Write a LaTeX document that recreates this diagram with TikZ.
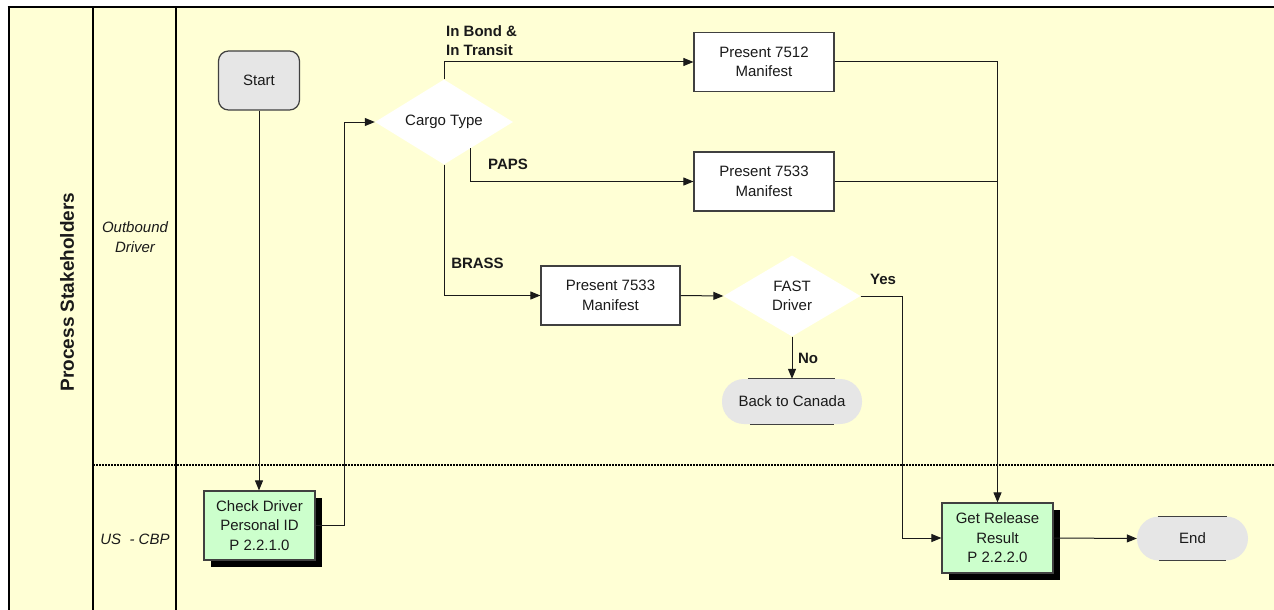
\documentclass[tikz,border=0pt]{standalone}
\usepackage{fontspec}
\setmainfont{Liberation Sans}
\usetikzlibrary{shapes.geometric,arrows.meta,shadows,calc}
\definecolor{bg}{HTML}{FFFFD5}
\definecolor{procfill}{HTML}{CCFFCC}
\definecolor{termfill}{HTML}{E6E6E6}
\definecolor{edge}{HTML}{404040}
\definecolor{ink}{HTML}{1A1A1A}
\tikzset{
  lane/.style={line width=2.6pt,black},
  lanesep/.style={line width=2pt,black,dash pattern=on 2pt off 1pt},
  startbox/.style={draw=edge,line width=1.2pt,fill=termfill,rounded corners=10pt,minimum width=81pt,minimum height=59pt,inner sep=0pt},
  procbox/.style={draw=edge,line width=1.2pt,fill=procfill,minimum width=111pt,minimum height=69pt,inner sep=0pt,align=center,
    drop shadow={shadow xshift=7pt,shadow yshift=-7pt,fill=black,opacity=1}},
  mbox/.style={draw=edge,line width=1.2pt,fill=white,minimum width=140pt,minimum height=59pt,inner sep=0pt,align=center},
  decision/.style={diamond,aspect=1.6,fill=white,draw=none,inner sep=0pt,align=center},
  term/.style={fill=termfill,draw=none,rounded corners=22pt,minimum height=44pt,inner sep=0pt},
  termline/.style={line width=1.2pt,edge},
  conn/.style={line width=1pt,draw=ink,-{Triangle[length=10pt,width=8pt]}},
  plain/.style={line width=1pt,draw=ink},
  lbl/.style={font=\fontsize{15}{19}\selectfont\bfseries,inner sep=0pt,text=ink},
  lanelbl/.style={font=\fontsize{15}{19.5}\selectfont\itshape,inner sep=0pt,align=center,text=ink},
}
\begin{document}
\begin{tikzpicture}[x=1pt,y=-1pt,font=\fontsize{15}{19.5}\selectfont,text=ink]
\useasboundingbox (0,0) rectangle (1274,610);
\fill[white] (0,0) rectangle (1274,610);
\fill[bg] (9,7) rectangle (1274,610);
\draw[lane] (7.7,7) -- (1274,7);
\draw[lane] (9,7) -- (9,610);
\draw[lane] (93,7) -- (93,610);
\draw[lane] (176,7) -- (176,610);
\draw[lanesep] (93,465) -- (1274,465);

\node[font=\fontsize{19}{22}\selectfont\bfseries,rotate=90,inner sep=0pt] (title) at (67,292) {Process Stakeholders};
\node[lanelbl] (lob) at (135,237) {Outbound\\Driver};
\node[lanelbl] (lus) at (135,539) {US\ \ - CBP};

\node[startbox] (start) at (259,80.5) {Start};
\node[procbox] (chk) at (259.5,525.5) {Check Driver\\Personal ID\\P 2.2.1.0};
\node[decision,minimum width=138pt,minimum height=85pt] (cargo) at (444,122) {Cargo Type};
\node[mbox] (m7512) at (764,62) {Present 7512\\Manifest};
\node[mbox] (m7533a) at (764,181.5) {Present 7533\\Manifest};
\node[mbox,minimum width=139pt] (m7533b) at (610.5,295.5) {Present 7533\\Manifest};
\node[decision,minimum width=137pt,minimum height=81pt] (fast) at (792,296) {FAST\\Driver};
\node[term,minimum width=140pt,minimum height=45pt] (back) at (792,401.5) {Back to Canada};
\node[procbox,minimum height=70pt] (rel) at (997.5,538) {Get Release\\Result\\P 2.2.2.0};
\node[term,minimum width=111pt] (end) at (1192.5,538.5) {End};

\draw[termline] ([xshift=26pt]back.north west) -- ([xshift=-27pt]back.north east);
\draw[termline] ([xshift=28pt]back.south west) -- ([xshift=-28pt]back.south east);
\draw[termline] ([xshift=21pt]end.north west) -- ([xshift=-21pt]end.north east);
\draw[termline] ([xshift=22pt]end.south west) -- ([xshift=-22pt]end.south east);

\coordinate (papsout) at ($(cargo.east)!0.62!(cargo.south)$);

\draw[conn] (start.south) -- (start.south |- chk.north);
\draw[conn] (chk.east) -- ++(29,0) |- (cargo.west);
\draw[conn] (cargo.north) |- (m7512.west);
\draw[conn] (papsout) |- (m7533a.west);
\draw[conn] (cargo.south) |- (m7533b.west);
\draw[conn] (m7533b.east) -- (fast.west);
\draw[conn] (fast.east) -- ++(42,0) |- (rel.west);
\draw[conn] (fast.south) -- (back.north);
\draw[conn] (m7512.east) -| (rel.north);
\draw[plain] (m7533a.east) -- (m7533a.east -| rel.north);
\draw[conn] (rel.east) -- (end.west);

\node[lbl,anchor=west,align=left] (lbond) at (446,41) {In Bond \&\\In Transit};
\node[lbl] (lpaps) at (508,164) {PAPS};
\node[lbl] (lbrass) at (477.5,263) {BRASS};
\node[lbl] (lyes) at (883,279) {Yes};
\node[lbl] (lno) at (808,358) {No};
\end{tikzpicture}
\end{document}
